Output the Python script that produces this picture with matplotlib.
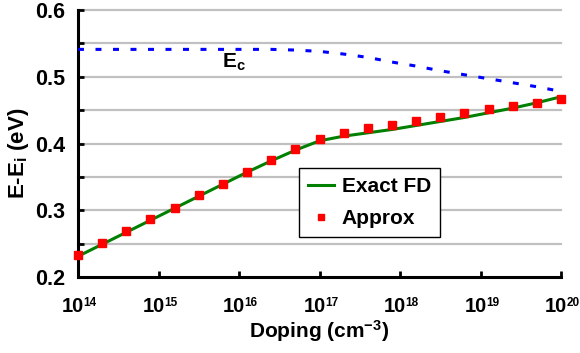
import numpy as np
import matplotlib.pyplot as plt
from matplotlib.ticker import FixedLocator, MultipleLocator, NullFormatter

plt.rcParams['font.family'] = ['Liberation Sans', 'DejaVu Sans']
plt.rcParams['font.weight'] = 'bold'
plt.rcParams['mathtext.fontset'] = 'custom'
plt.rcParams['mathtext.rm'] = 'Liberation Sans:bold'
plt.rcParams['mathtext.bf'] = 'Liberation Sans:bold'
plt.rcParams['mathtext.it'] = 'Liberation Sans:bold'
plt.rcParams['mathtext.default'] = 'bf'
plt.rcParams['lines.scale_dashes'] = False

# doping levels, 0.3 decade steps from 1e14 to 1e20
log_doping = [14.0, 14.3, 14.6, 14.9, 15.2, 15.5, 15.8, 16.1, 16.4, 16.7, 17.0,
              17.3, 17.6, 17.9, 18.2, 18.5, 18.8, 19.1, 19.4, 19.7, 20.0]
doping = [10 ** v for v in log_doping]

# E-Ei (eV)
exact_fd = [0.231, 0.249, 0.267, 0.285, 0.303, 0.321, 0.339, 0.357, 0.374, 0.390, 0.404,
            0.411, 0.416, 0.421, 0.427, 0.433, 0.439, 0.446, 0.453, 0.461, 0.470]
approx = [0.233, 0.251, 0.269, 0.2865, 0.304, 0.3225, 0.340, 0.358, 0.375, 0.392, 0.406,
          0.415, 0.423, 0.428, 0.434, 0.439, 0.445, 0.451, 0.456, 0.461, 0.4667]
ec = [0.541, 0.541, 0.541, 0.541, 0.541, 0.541, 0.541, 0.541, 0.541, 0.540, 0.538,
      0.534, 0.529, 0.522, 0.516, 0.509, 0.503, 0.497, 0.491, 0.485, 0.478]

x_exponents = [14, 15, 16, 17, 18, 19, 20]
x_ticks = [10.0 ** e for e in x_exponents]

fig = plt.figure(figsize=(5.8, 3.53), dpi=100)
ax = fig.add_axes([78 / 580, 1 - 277 / 353, (561 - 78) / 580, (277 - 10) / 353])

ax.set_xscale('log')
ax.set_xlim(1e14, 1e20)
ax.set_ylim(0.2, 0.6)

# grid at every 0.05
for g in np.arange(0.25, 0.601, 0.05):
    ax.axhline(g, color='#c0c0c0', lw=1.6, zorder=0, clip_on=False)

ax.plot(doping, ec, color='#0000ff', lw=2.2, ls=(0, (4.3, 8.3)), zorder=3)
ax.plot(doping, exact_fd, color='#008000', lw=2.2, label='Exact FD', zorder=3)
ax.plot(doping, approx, ls='none', marker='s', ms=5.2, color='#ff0000', mec='#ff0000',
        label='Approx', zorder=4, clip_on=False)

ax.text(6.2e15, 0.514, r'E$_{\mathbf{c}}$', fontsize=15, ha='left', va='baseline')

for s in ['top', 'right']:
    ax.spines[s].set_visible(False)
for s in ['left', 'bottom']:
    ax.spines[s].set_linewidth(2.2)

ax.xaxis.set_major_locator(FixedLocator(x_ticks))
ax.xaxis.set_minor_locator(FixedLocator([]))
ax.xaxis.set_major_formatter(NullFormatter())
ax.yaxis.set_major_locator(MultipleLocator(0.1))
ax.yaxis.set_minor_locator(MultipleLocator(0.05))
ax.set_yticklabels([f'{v:.1f}' for v in ax.get_yticks()])
ax.tick_params(axis='both', which='both', direction='in', width=2, length=4)
ax.tick_params(axis='y', labelsize=15.5, pad=9)

# x tick labels: large "10" with a small exponent
for e, t in zip(x_exponents, x_ticks):
    ax.annotate('10', xy=(t, 0), xycoords=('data', 'axes fraction'), xytext=(4.6, -25.0),
                textcoords='offset points', ha='right', va='baseline', fontsize=14.5,
                fontweight='bold', annotation_clip=False)
    ax.annotate(str(e), xy=(t, 0), xycoords=('data', 'axes fraction'), xytext=(4.0, -21.2),
                textcoords='offset points', ha='left', va='baseline', fontsize=8.5,
                fontweight='bold', annotation_clip=False)

ax.set_xlabel(r'Doping (cm$^{\mathbf{-3}}$)', fontsize=15, fontweight='bold', labelpad=26)
ax.set_ylabel(r'E-E$_{\mathbf{i}}$ (eV)', fontsize=16, fontweight='bold')
ax.yaxis.set_label_coords(-0.097, 0.4625)

leg = ax.legend(loc='upper left', bbox_to_anchor=(0.4576, 0.408), fontsize=15,
                frameon=True, fancybox=False, edgecolor='black', framealpha=1,
                handlelength=1.25, handletextpad=0.35, borderpad=0.45, labelspacing=0.6,
                markerscale=0.9, borderaxespad=0)
leg.get_frame().set_linewidth(1.0)

fig.savefig('out.png', dpi=100)
